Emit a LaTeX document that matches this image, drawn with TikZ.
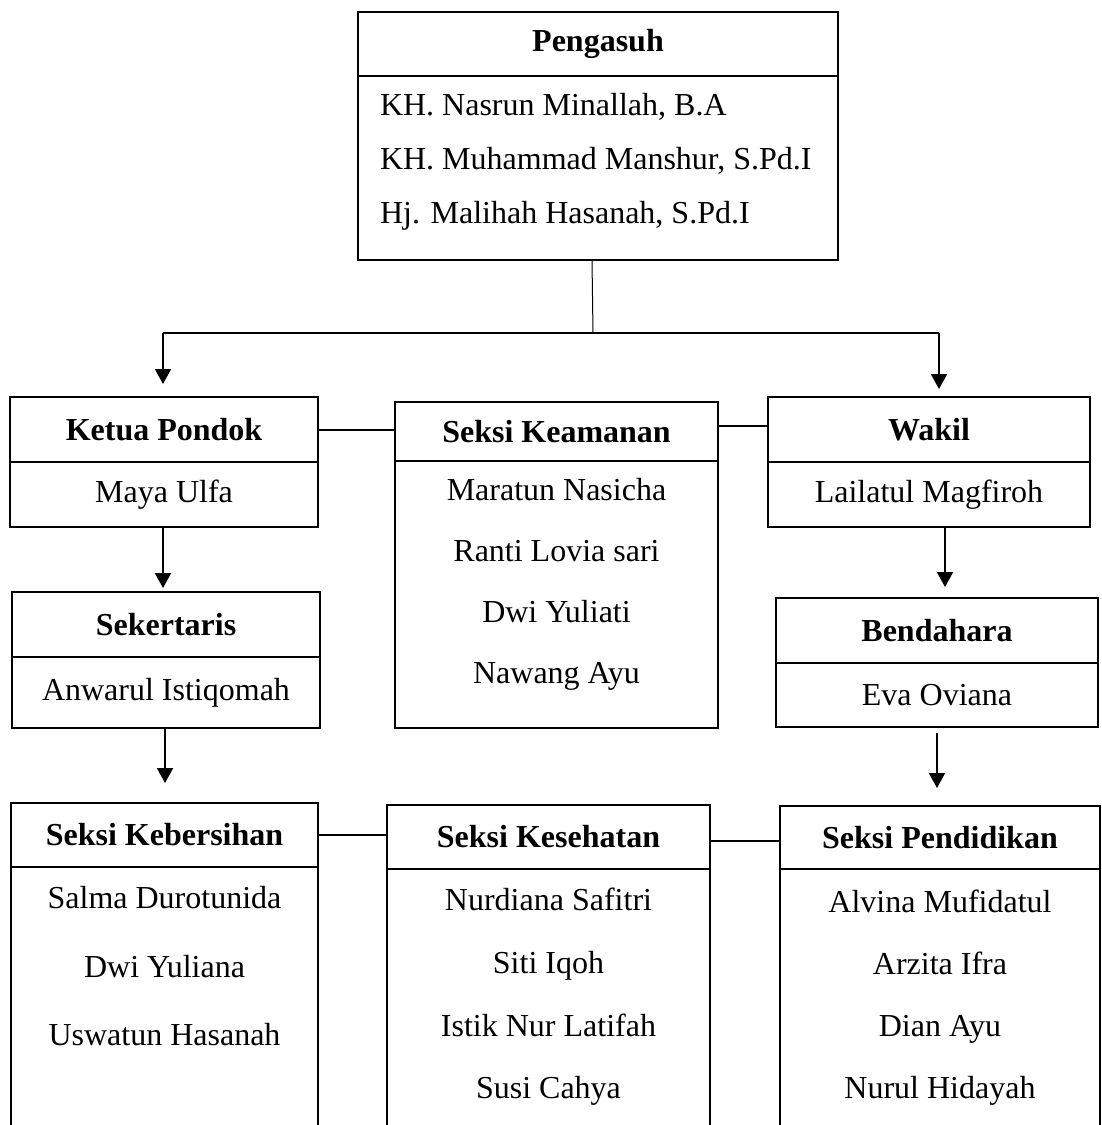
\documentclass[tikz,border=0pt]{standalone}
\usepackage{fontspec}
\setmainfont{Liberation Serif}
\usetikzlibrary{arrows.meta}
\begin{document}
\begin{tikzpicture}[x=1pt,y=-1pt,
  txt/.style={font=\fontsize{32}{38}\selectfont, inner sep=0pt, outer sep=0pt},
  boxbase/.style={draw, line width=2.5pt, rectangle, inner sep=0pt, outer sep=0pt, anchor=north west, font=\fontsize{32}{38}\selectfont},
  hdr/.style={boxbase, font=\fontsize{32}{38}\selectfont\bfseries},
  bdy/.style={boxbase},
  conn/.style={line width=2pt},
  arr/.style={line width=2pt, -{Triangle[width=16pt,length=15pt]}},
  list/.style={txt, align=center},
]
\useasboundingbox (0,0) rectangle (1101,1125);
\clip (0,0) rectangle (1101,1125);

% Pengasuh
\node[hdr, minimum width=480, minimum height=64] (pengH) at (358,12) {\raisebox{-2pt}{Pengasuh}};
\node[bdy, minimum width=480, minimum height=184] (pengB) at (358,76) {};
\node[txt, align=left, anchor=west, font=\fontsize{32}{54}\selectfont] (pengT) at (380,162)
  {KH. Nasrun Minallah, B.A\\KH. Muhammad Manshur, S.Pd.I\\Hj. Malihah Hasanah, S.Pd.I};

% Ketua Pondok
\node[hdr, minimum width=308, minimum height=65] (ketH) at (10,397) {Ketua Pondok};
\node[bdy, minimum width=308, minimum height=65] (ketB) at (10,462) {Maya Ulfa};

% Sekertaris
\node[hdr, minimum width=308, minimum height=65] (sekH) at (12,592) {Sekertaris};
\node[bdy, minimum width=308, minimum height=71] (sekB) at (12,657) {Anwarul Istiqomah};

% Seksi Keamanan
\node[hdr, minimum width=323, minimum height=59] (keaH) at (395,402) {Seksi Keamanan};
\node[bdy, minimum width=323, minimum height=267] (keaB) at (395,461) {};
\node[list, font=\fontsize{32}{61}\selectfont] (keaT) at (556.5,584)
  {Maratun Nasicha\\Ranti Lovia sari\\Dwi Yuliati\\Nawang Ayu};

% Wakil
\node[hdr, minimum width=322, minimum height=65] (wakH) at (768,397) {Wakil};
\node[bdy, minimum width=322, minimum height=65] (wakB) at (768,462) {Lailatul Magfiroh};

% Bendahara
\node[hdr, minimum width=322, minimum height=65] (benH) at (776,598) {Bendahara};
\node[bdy, minimum width=322, minimum height=64] (benB) at (776,663) {Eva Oviana};

% Seksi Kebersihan
\node[hdr, minimum width=307, minimum height=64] (kebH) at (11,803) {Seksi Kebersihan};
\node[bdy, minimum width=307, minimum height=300] (kebB) at (11,867) {};
\node[list, font=\fontsize{32}{68.5}\selectfont] (kebT) at (164.5,966.5)
  {Salma Durotunida\\Dwi Yuliana\\Uswatun Hasanah};

% Seksi Kesehatan
\node[hdr, minimum width=323, minimum height=64] (kesH) at (387,805) {Seksi Kesehatan};
\node[bdy, minimum width=323, minimum height=300] (kesB) at (387,869) {};
\node[list, font=\fontsize{32}{62.7}\selectfont] (kesT) at (548.5,997)
  {Nurdiana Safitri\\Siti Iqoh\\Istik Nur Latifah\\Susi Cahya};

% Seksi Pendidikan
\node[hdr, minimum width=320, minimum height=63] (penH) at (780,806) {Seksi Pendidikan};
\node[bdy, minimum width=320, minimum height=300] (penB) at (780,869) {};
\node[list, font=\fontsize{32}{62}\selectfont] (penT) at (940,998)
  {Alvina Mufidatul\\Arzita Ifra\\Dian Ayu\\Nurul Hidayah};

% connectors
\coordinate (jm) at (593,333);
\coordinate (jl) at (163,333);
\coordinate (jr) at (939,333);
\draw[line width=1pt] ([xshift=-6pt]pengB.south) -- (jm);
\draw[conn] (jl) -- (jr);
\draw[arr, shorten >=13pt] (jl) -- (jl |- ketH.north);
\draw[arr, shorten >=8pt] (jr) -- (jr |- wakH.north);
\draw[arr, shorten >=4pt] ([xshift=-1pt]ketB.south) -- ([xshift=-1pt]ketB.south |- sekH.north);
\draw[arr, shorten >=20pt] ([xshift=-1pt]sekB.south) -- ([xshift=-1pt]sekB.south |- kebH.north);
\draw[arr, shorten >=11pt] ([xshift=16pt]wakB.south) -- ([xshift=16pt]wakB.south |- benH.north);
\draw[arr, shorten <=6pt, shorten >=18pt] (benB.south) -- (benB.south |- penH.north);

\draw[conn] (ketH.east) -- (ketH.east -| keaH.west);
\draw[conn] ([yshift=6pt]keaH.east) -- ([yshift=6pt]keaH.east -| wakH.west);
\draw[conn] (kebH.east) -- (kebH.east -| kesH.west);
\draw[conn] ([yshift=-4pt]kesH.east) -- ([yshift=-4pt]kesH.east -| penH.west);
\end{tikzpicture}
\end{document}
